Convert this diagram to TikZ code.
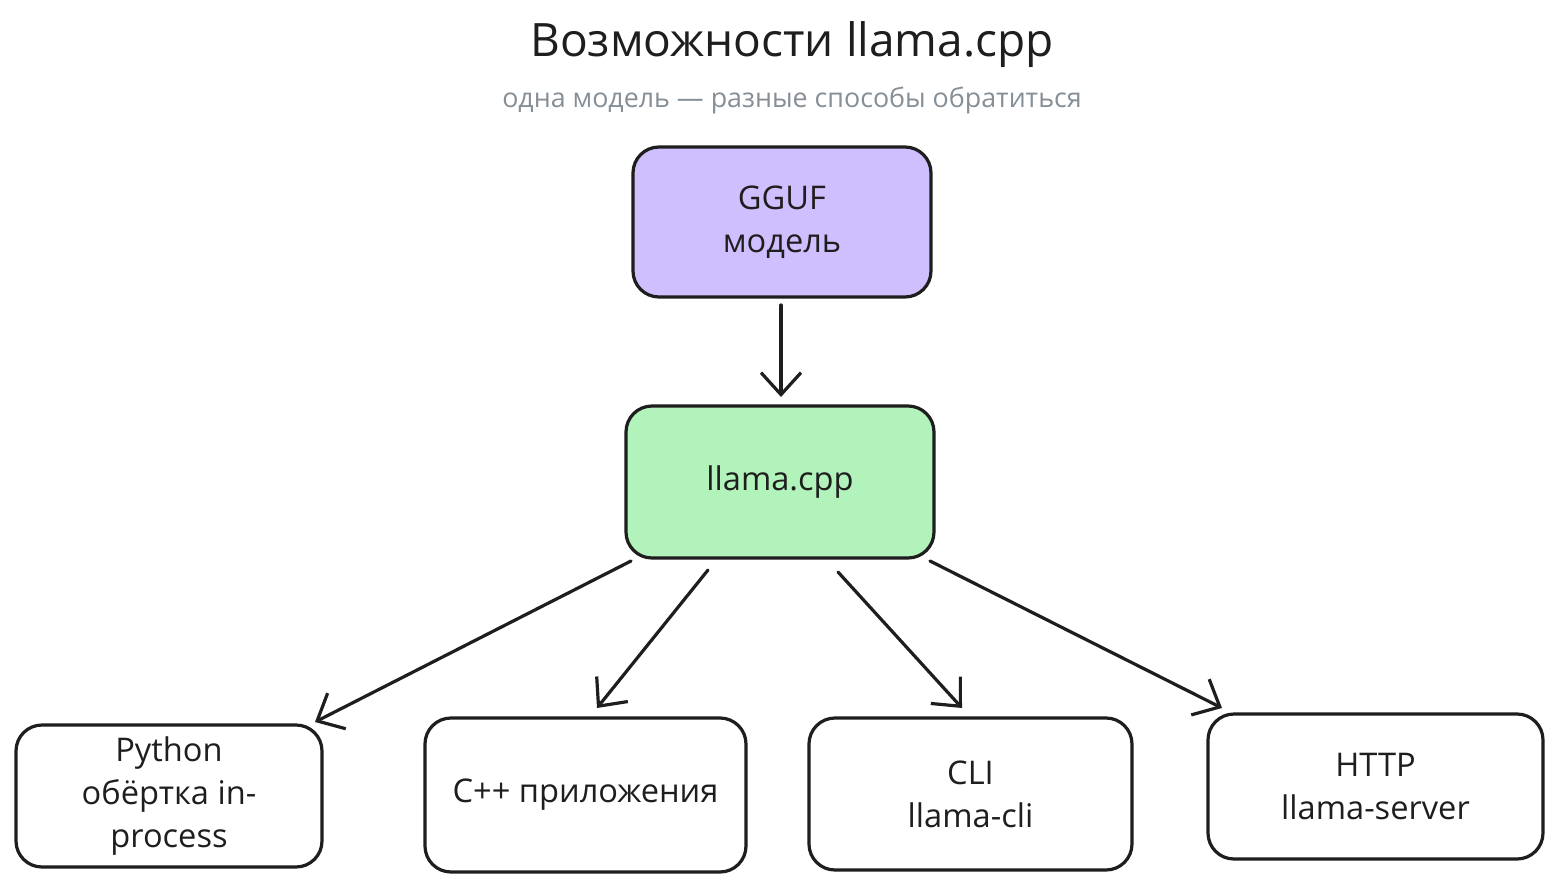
\documentclass[tikz,border=0pt]{standalone}
\usepackage{fontspec}
\setmainfont{Open Sans}
\usetikzlibrary{arrows.meta}
\definecolor{ink}{HTML}{1E1E1E}
\definecolor{lav}{HTML}{D0BFFF}
\definecolor{mint}{HTML}{B2F2BB}
\definecolor{subgray}{HTML}{868E96}
\tikzset{
  box/.style={draw=ink, line width=1.6pt, rounded corners=13pt, align=center,
    font=\fontsize{16.3}{21.5}\selectfont, text=ink, inner sep=2pt},
  conn/.style={draw=ink, line width=1.6pt, -{Straight Barb[length=11pt,width=20pt,line width=1.6pt]}, line cap=round}
}
\begin{document}
\begin{tikzpicture}[x=0.5pt,y=-0.5pt]
\useasboundingbox[fill=white] (0,0) rectangle (1560,889);
\node[font=\fontsize{23}{28}\selectfont, text=ink] (title) at (792,45) {Возможности llama.cpp};
\node[font=\fontsize{13.4}{16}\selectfont, text=subgray] (sub) at (792,100) {одна модель — разные способы обратиться};
\node[box, fill=lav, minimum width=149pt, minimum height=75pt] (gguf) at (782,222) {GGUF\\модель};
\node[box, fill=mint, minimum width=154pt, minimum height=76pt] (llama) at (780,482) {llama.cpp};
\node[box, fill=white, minimum width=153pt, minimum height=71pt] (py) at (169,796) {Python\\обёртка in-\\process};
\node[box, fill=white, minimum width=160.5pt, minimum height=77pt] (cpp) at (585.5,795) {C++ приложения};
\node[box, fill=white, minimum width=161.5pt, minimum height=76pt] (cli) at (970.5,794) {CLI\\llama-cli};
\node[box, fill=white, minimum width=167.5pt, minimum height=72.5pt] (http) at (1375.5,786.5) {HTTP\\llama-server};
\coordinate (a1s) at (781,305); \coordinate (a1e) at (781,397);
\coordinate (a2s) at (631,561); \coordinate (a2e) at (315,722);
\coordinate (a3s) at (708,570); \coordinate (a3e) at (597,708);
\coordinate (a4s) at (838,572); \coordinate (a4e) at (962,708);
\coordinate (a5s) at (930,561); \coordinate (a5e) at (1222,708);
\draw[conn] (a1s) -- (a1e);
\draw[conn] (a2s) -- (a2e);
\draw[conn] (a3s) -- (a3e);
\draw[conn] (a4s) -- (a4e);
\draw[conn] (a5s) -- (a5e);
\end{tikzpicture}
\end{document}
